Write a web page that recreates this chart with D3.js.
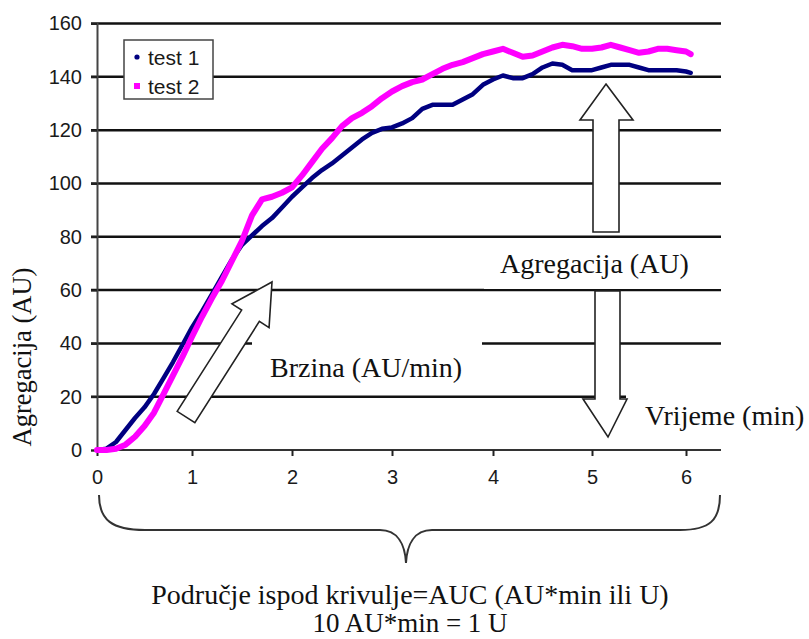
<!DOCTYPE html>
<html><head><meta charset="utf-8">
<script src="https://cdn.jsdelivr.net/npm/d3@7/dist/d3.min.js"></script>
<style>html,body{margin:0;padding:0;background:#fff;}svg{display:block;}</style>
</head><body>
<svg id="c" width="809" height="639"></svg>
<script>
const times = [0,0.1,0.2,0.3,0.4,0.5,0.6,0.7,0.8,0.9,1.0,1.1,1.2,1.3,1.4,1.5,1.6,1.7,1.8,1.9,2.0,2.1,2.2,2.3,2.4,2.5,2.6,2.7,2.8,2.9,3.0,3.1,3.2,3.3,3.4,3.5,3.6,3.7,3.8,3.9,4.0,4.1,4.2,4.3,4.4,4.5,4.6,4.7,4.8,4.9,5.0,5.1,5.2,5.3,5.4,5.5,5.6,5.7,5.8,5.9,6.0,6.05];
const test1 = [0,0.5,3,7.5,12,16,21,27,33,39.5,46,52,58.5,65,71.5,77,80.5,84,87,91,95,98.5,102,105,107.5,110.5,113.5,116.5,119,120.5,121,122.5,124.5,128,129.5,129.5,129.5,131.5,133.5,137,139,140.5,139.5,139.5,141,143.5,145,144.5,142.5,142.5,142.5,143.5,144.5,144.5,144.5,143.5,142.5,142.5,142.5,142.5,142,141.5];
const test2 = [0,0,0.5,2,5,9,14,21,28,35,42.5,50,57,63.5,71,78.5,88,94,95,96.5,98.5,103,108,113,117,121.5,124.5,126.5,129,132,134.5,136.5,138,139,141,143,144.5,145.5,147,148.5,149.5,150.5,149,147.5,148,149.5,151,152,151.5,150.5,150.5,151,152,151,150,149,149.5,150.5,150.5,150,149.5,148.5];
const seriesNames = ["test 1","test 2"];
const xTickVals = [0,1,2,3,4,5,6];
const yTickVals = [0,20,40,60,80,100,120,140,160];
const yTitle = "Agregacija (AU)";
const noteRate = "Brzina (AU/min)";
const noteAgg = "Agregacija (AU)";
const noteTime = "Vrijeme (min)";
const noteAuc1 = "Područje ispod krivulje=AUC (AU*min ili U)";
const noteAuc2 = "10 AU*min = 1 U";

const svg = d3.select("#c");
const x = d3.scaleLinear().domain(xTickVals).range([97,192,292,392,493,592,686]);
const y = d3.scaleLinear().domain([0,160]).range([450,23.5]);
const xRight = 721;
const sans = "'Liberation Sans', Arial, sans-serif";
const serif = "'Liberation Serif', 'Times New Roman', serif";

// gridlines
svg.append("g").selectAll("line").data(yTickVals.filter(d=>d>0)).join("line")
  .attr("x1",91).attr("x2",xRight).attr("y1",d=>y(d)).attr("y2",d=>y(d))
  .attr("stroke","#111").attr("stroke-width",2.5);

// y axis
const yAxis = svg.append("g").attr("transform","translate(97,0)")
  .call(d3.axisLeft(y).tickValues(yTickVals).tickSize(6).tickPadding(9));
yAxis.select(".domain").attr("stroke","#444").attr("stroke-width",2);
yAxis.selectAll(".tick line").attr("stroke","#222").attr("stroke-width",2);
yAxis.selectAll(".tick text").attr("font-family",sans).attr("font-size",20).attr("fill","#1a1a1a");

// x axis
const xAxis = svg.append("g").attr("transform","translate(0,450)")
  .call(d3.axisBottom(x).tickValues(xTickVals).tickSize(6).tickPadding(14).tickFormat(d3.format("d")));
xAxis.select(".domain").attr("d",`M97,0H${xRight}`).attr("stroke","#333").attr("stroke-width",2);
xAxis.selectAll(".tick line").attr("stroke","#222").attr("stroke-width",2);
xAxis.selectAll(".tick text").attr("font-family",sans).attr("font-size",20).attr("fill","#1a1a1a");

// white label boxes
svg.append("rect").attr("x",252).attr("y",300).attr("width",230).attr("height",92).attr("fill","#fff");
svg.append("rect").attr("x",484).attr("y",243).attr("width",238).attr("height",46).attr("fill","#fff");
svg.append("rect").attr("x",626).attr("y",392).attr("width",183).attr("height",50).attr("fill","#fff");

// series
const line = d3.line().x((d,i)=>x(times[i])).y(d=>y(d)).curve(d3.curveLinear);
svg.append("path").datum(test1).attr("d",line).attr("fill","none")
  .attr("stroke","#000080").attr("stroke-width",4.5).attr("stroke-linejoin","round").attr("stroke-linecap","round");
svg.append("path").datum(test2).attr("d",line).attr("fill","none")
  .attr("stroke","#ff00ff").attr("stroke-width",6).attr("stroke-linejoin","round").attr("stroke-linecap","round");

// legend
const lg = svg.append("g");
lg.append("rect").attr("x",124).attr("y",40).attr("width",89).attr("height",59)
  .attr("fill","#fff").attr("stroke","#444").attr("stroke-width",1.5);
lg.append("circle").attr("cx",137).attr("cy",57).attr("r",2.6).attr("fill","#000080");
lg.append("rect").attr("x",134).attr("y",83).attr("width",6).attr("height",6).attr("fill","#ff00ff");
lg.append("text").attr("x",148).attr("y",65).text(seriesNames[0]).attr("font-family",sans).attr("font-size",21).attr("fill","#1a1a1a");
lg.append("text").attr("x",148).attr("y",94).text(seriesNames[1]).attr("font-family",sans).attr("font-size",21).attr("fill","#1a1a1a");

// block arrows
const arrowStyle = s => s.attr("fill","#fff").attr("stroke","#222").attr("stroke-width",1.6).attr("stroke-linejoin","miter");
arrowStyle(svg.append("path").attr("d","M606,84 L633,120 L619,120 L619,232 L593,232 L593,120 L580,120 Z"));
arrowStyle(svg.append("path").attr("d","M595,291 L620,291 L620,399 L627,399 L608,437 L583,399 L595,399 Z"));
{
  const tipX=272, tipY=282, tailX=186, tailY=417;
  const ang = Math.atan2(tipY-tailY, tipX-tailX)*180/Math.PI;
  const L = Math.hypot(tipX-tailX, tipY-tailY);
  const hw=10.5, hh=22, hl=40;
  arrowStyle(svg.append("path")
    .attr("transform",`translate(${tailX},${tailY}) rotate(${ang})`)
    .attr("d",`M0,${-hw} L${L-hl},${-hw} L${L-hl},${-hh} L${L},0 L${L-hl},${hh} L${L-hl},${hw} L0,${hw} Z`));
}

// annotation texts
svg.append("text").attr("x",270).attr("y",377).text(noteRate).attr("font-family",serif).attr("font-size",28).attr("fill","#111");
svg.append("text").attr("x",500).attr("y",273).text(noteAgg).attr("font-family",serif).attr("font-size",28).attr("fill","#111");
svg.append("text").attr("x",645).attr("y",425).text(noteTime).attr("font-family",serif).attr("font-size",28).attr("fill","#111");
svg.append("text").attr("transform","translate(31,357) rotate(-90)").attr("text-anchor","middle")
  .text(yTitle).attr("font-family",serif).attr("font-size",26.5).attr("fill","#111");

// brace
svg.append("path")
  .attr("d","M99,495 C99,520 112,530 145,530 L380,530 C398,530 405,545 406,563 C407,545 414,530 432,530 L680,530 C710,530 720,520 720,495")
  .attr("fill","none").attr("stroke","#333").attr("stroke-width",2);

svg.append("text").attr("x",410).attr("y",604).attr("text-anchor","middle").text(noteAuc1).attr("font-family",serif).attr("font-size",28).attr("fill","#111");
svg.append("text").attr("x",410).attr("y",632).attr("text-anchor","middle").text(noteAuc2).attr("font-family",serif).attr("font-size",27).attr("fill","#111");
</script>
</body></html>
